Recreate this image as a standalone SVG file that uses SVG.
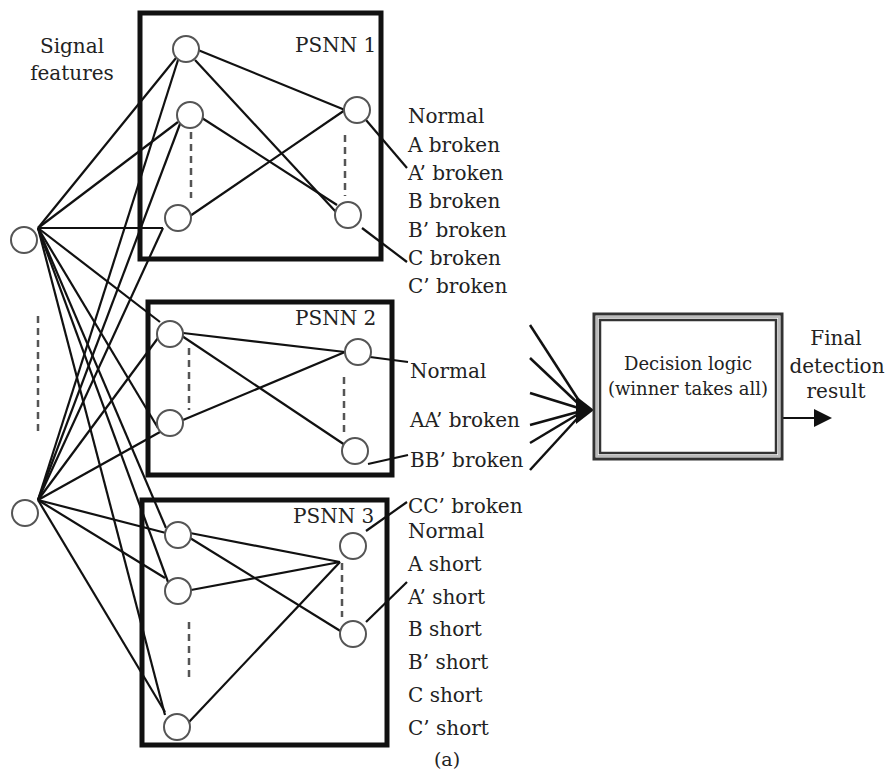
<svg xmlns="http://www.w3.org/2000/svg" width="889" height="780" viewBox="0 0 889 780">
<style>
.t{font-family:"DejaVu Serif","Liberation Serif",serif;font-size:20px;fill:#222}
.c{text-anchor:middle}
.box{fill:none;stroke:#111;stroke-width:5}
.n{fill:#fff;stroke:#555;stroke-width:2}
.e{stroke:#111;stroke-width:2.2;fill:none}
.d{stroke:#555;stroke-width:2.5;stroke-dasharray:7,5;fill:none}
</style>
<rect width="889" height="780" fill="#fff"/>
<g id="labels-top">
<text class="t c" x="72" y="53">Signal</text>
<text class="t c" x="72" y="80">features</text>
</g>
<g id="connectors">
<!-- input 1 -->
<line class="e" x1="38" y1="228" x2="176" y2="58"/>
<line class="e" x1="38" y1="228" x2="178" y2="122"/>
<line class="e" x1="38" y1="228" x2="163" y2="228"/>
<line class="e" x1="38" y1="228" x2="160" y2="322"/>
<line class="e" x1="38" y1="228" x2="158" y2="428"/>
<line class="e" x1="38" y1="228" x2="166" y2="528"/>
<line class="e" x1="38" y1="228" x2="168" y2="582"/>
<line class="e" x1="38" y1="228" x2="165" y2="715"/>
<!-- input 2 -->
<line class="e" x1="38" y1="500" x2="178" y2="60"/>
<line class="e" x1="38" y1="500" x2="180" y2="124"/>
<line class="e" x1="38" y1="500" x2="163" y2="228"/>
<line class="e" x1="38" y1="500" x2="158" y2="338"/>
<line class="e" x1="38" y1="500" x2="160" y2="432"/>
<line class="e" x1="38" y1="500" x2="166" y2="533"/>
<line class="e" x1="38" y1="500" x2="165" y2="578"/>
<line class="e" x1="38" y1="500" x2="165" y2="712"/>
<!-- PSNN1 internal -->
<line class="e" x1="198" y1="50" x2="345" y2="110"/>
<line class="e" x1="195" y1="60" x2="336" y2="212"/>
<line class="e" x1="202" y1="118" x2="337" y2="205"/>
<line class="e" x1="190" y1="216" x2="345" y2="110"/>
<!-- PSNN2 internal -->
<line class="e" x1="183" y1="333" x2="345" y2="352"/>
<line class="e" x1="182" y1="336" x2="345" y2="445"/>
<line class="e" x1="183" y1="420" x2="345" y2="352"/>
<!-- PSNN3 internal -->
<line class="e" x1="190" y1="533" x2="340" y2="562"/>
<line class="e" x1="190" y1="538" x2="342" y2="632"/>
<line class="e" x1="191" y1="590" x2="340" y2="562"/>
<line class="e" x1="189" y1="722" x2="340" y2="562"/>
<!-- outputs -->
<line class="e" x1="366" y1="120" x2="407" y2="168"/>
<line class="e" x1="362" y1="228" x2="407" y2="262"/>
<line class="e" x1="370" y1="357" x2="408" y2="362"/>
<line class="e" x1="368" y1="464" x2="408" y2="455"/>
<line class="e" x1="366" y1="531" x2="407" y2="502"/>
<line class="e" x1="366" y1="622" x2="407" y2="582"/>
<!-- to decision -->
<g stroke="#111" stroke-width="2.5">
<line x1="530" y1="325" x2="585" y2="410"/>
<line x1="530" y1="358" x2="585" y2="410"/>
<line x1="530" y1="393" x2="585" y2="410"/>
<line x1="530" y1="425" x2="585" y2="410"/>
<line x1="530" y1="443" x2="585" y2="410"/>
<line x1="530" y1="470" x2="585" y2="410"/>
</g>
<polygon points="576,396 594,410 576,424" fill="#111"/>
<line class="e" x1="783" y1="418" x2="818" y2="418" stroke-width="2.5"/>
<polygon points="814,409 832,418 814,427" fill="#111"/>
</g>
<g id="input-nodes">
<circle class="n" cx="24" cy="240" r="13"/>
<circle class="n" cx="25" cy="513" r="13"/>
<line class="d" x1="38" y1="316" x2="38" y2="434"/>
</g>
<g id="psnn1">
<rect class="box" x="140" y="13" width="241" height="246"/>
<text class="t" x="295" y="52">PSNN 1</text>
<circle class="n" cx="186" cy="49" r="13"/>
<circle class="n" cx="190" cy="115" r="13"/>
<circle class="n" cx="178" cy="218" r="13"/>
<circle class="n" cx="357" cy="110" r="13"/>
<circle class="n" cx="348" cy="215" r="13"/>
<line class="d" x1="191" y1="132" x2="191" y2="198"/>
<line class="d" x1="345" y1="135" x2="345" y2="196"/>
</g>
<g id="psnn2">
<rect class="box" x="148" y="302" width="244" height="173"/>
<text class="t" x="295" y="325">PSNN 2</text>
<circle class="n" cx="170" cy="334" r="13"/>
<circle class="n" cx="170" cy="423" r="13"/>
<circle class="n" cx="358" cy="352" r="13"/>
<circle class="n" cx="355" cy="451" r="13"/>
<line class="d" x1="189" y1="348" x2="189" y2="410"/>
<line class="d" x1="344" y1="377" x2="344" y2="437"/>
</g>
<g id="psnn3">
<rect class="box" x="142" y="500" width="245" height="245"/>
<text class="t" x="293" y="523">PSNN 3</text>
<circle class="n" cx="178" cy="535" r="13"/>
<circle class="n" cx="178" cy="591" r="13"/>
<circle class="n" cx="177" cy="727" r="13"/>
<circle class="n" cx="353" cy="546" r="13"/>
<circle class="n" cx="353" cy="634" r="13"/>
<line class="d" x1="189" y1="622" x2="189" y2="682"/>
<line class="d" x1="342" y1="563" x2="342" y2="617"/>
</g>
<g id="out1-labels">
<text class="t" x="408" y="123">Normal</text>
<text class="t" x="408" y="152">A broken</text>
<text class="t" x="408" y="180">A’ broken</text>
<text class="t" x="408" y="208">B broken</text>
<text class="t" x="408" y="237">B’ broken</text>
<text class="t" x="408" y="265">C broken</text>
<text class="t" x="408" y="293">C’ broken</text>
</g>
<g id="out2-labels">
<text class="t" x="410" y="378">Normal</text>
<text class="t" x="410" y="427">AA’ broken</text>
<text class="t" x="410" y="467">BB’ broken</text>
</g>
<g id="out3-labels">
<text class="t" x="408" y="513">CC’ broken</text>
<text class="t" x="408" y="538">Normal</text>
<text class="t" x="408" y="571">A short</text>
<text class="t" x="408" y="604">A’ short</text>
<text class="t" x="408" y="636">B short</text>
<text class="t" x="408" y="669">B’ short</text>
<text class="t" x="408" y="702">C short</text>
<text class="t" x="408" y="735">C’ short</text>
</g>
<g id="decision">
<rect x="594" y="314" width="188" height="145" fill="#fff" stroke="#333" stroke-width="3"/>
<rect x="600" y="320" width="176" height="133" fill="#fff" stroke="#333" stroke-width="2.5"/>
<rect x="597" y="317" width="182" height="139" fill="none" stroke="#bbb" stroke-width="2"/>
<text class="t c" x="688" y="370" style="font-size:18px">Decision logic</text>
<text class="t c" x="688" y="395" style="font-size:18px">(winner takes all)</text>
</g>
<g id="result">
<text class="t c" x="836" y="345">Final</text>
<text class="t c" x="837" y="373">detection</text>
<text class="t c" x="836" y="398">result</text>
</g>
<text class="t c" x="447" y="766" style="font-size:19px">(a)</text>
</svg>
